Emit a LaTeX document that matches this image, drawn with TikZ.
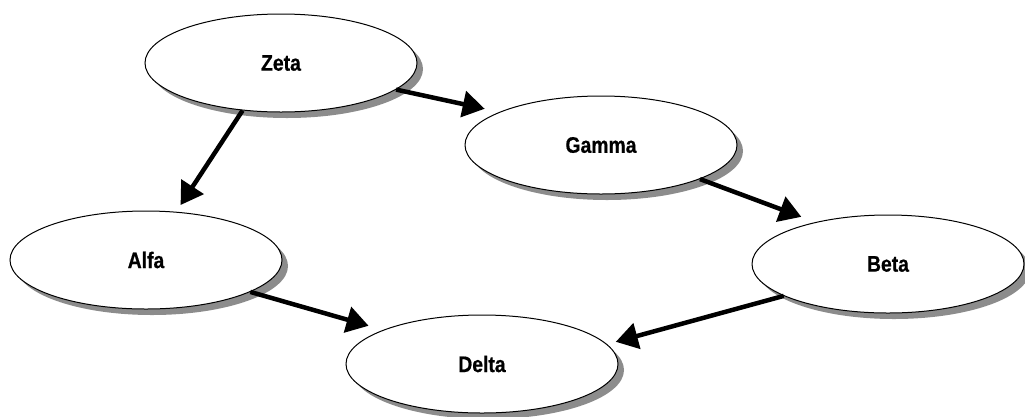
\documentclass[tikz,border=0pt]{standalone}
\usepackage{fontspec}
\setmainfont{Liberation Sans}
\newfontfamily\labelfont[FakeStretch=0.86,FakeBold=0.6]{Liberation Sans Bold}
\usetikzlibrary{arrows.meta,shadows,shapes.geometric}
\begin{document}
\begin{tikzpicture}[x=1pt,y=-1pt,
  bubble/.style={ellipse,draw=black,line width=1pt,fill=white,
    minimum width=272pt,minimum height=98pt,inner sep=0pt,
    font=\labelfont\fontsize{22.5}{26}\selectfont,
    drop shadow={shadow xshift=6pt,shadow yshift=-6pt,fill=black!45,opacity=1}},
  link/.style={line width=4.5pt,-{Triangle[length=22pt,width=26pt]}}]
\useasboundingbox (0,0) rectangle (1025,416);
\node[bubble] (Zeta) at (281,63) {Zeta};
\node[bubble] (Gamma) at (601,145) {Gamma};
\node[bubble] (Alfa) at (146,260) {Alfa};
\node[bubble] (Beta) at (888,264) {Beta};
\node[bubble] (Delta) at (482,364) {Delta};
\draw[link,shorten >=8pt] (Zeta.231.5) -- (Alfa.58);
\draw[link,shorten >=15pt] (Zeta.-13.8) -- (Gamma.162);
\draw[link,shorten >=15pt] (Gamma.-19) -- (Beta.150);
\draw[link,shorten >=15pt] (Alfa.-17.3) -- (Delta.161);
\draw[link,shorten >=9pt] (Beta.-163.7) -- (Delta.9.5);
\end{tikzpicture}
\end{document}
